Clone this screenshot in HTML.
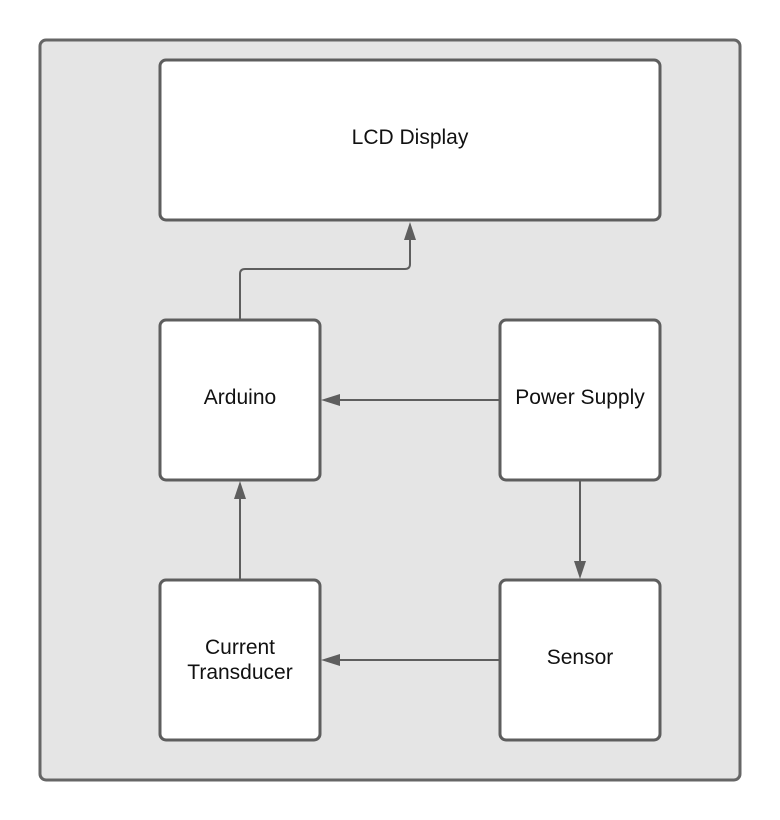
<!DOCTYPE html>
<html><head><meta charset="utf-8"><style>
html,body{margin:0;padding:0;background:#fff;}
svg{display:block;}
text{font-family:"Liberation Sans",Arial,sans-serif;font-size:21px;fill:#111;}
</style></head><body>
<svg width="780" height="820" viewBox="0 0 780 820" xmlns="http://www.w3.org/2000/svg">
<rect x="40" y="40" width="700" height="740" rx="6" fill="#e5e5e5" stroke="#666" stroke-width="3"/>
<g fill="#fff" stroke="#5e5e5e" stroke-width="3">
<rect x="160" y="60" width="500" height="160" rx="6"/>
<rect x="160" y="320" width="160" height="160" rx="6"/>
<rect x="500" y="320" width="160" height="160" rx="6"/>
<rect x="160" y="580" width="160" height="160" rx="6"/>
<rect x="500" y="580" width="160" height="160" rx="6"/>
</g>
<g fill="none" stroke="#5e5e5e" stroke-width="2">
<path d="M240 320 V274 Q240 269 245 269 H405 Q410 269 410 264 V238"/>
<path d="M500 400 H338"/>
<path d="M580 480 V562"/>
<path d="M500 660 H338"/>
<path d="M240 580 V498"/>
</g>
<g fill="#5e5e5e">
<path d="M410 222 L404 240 L416 240 Z"/>
<path d="M321 400 L340 394 L340 406 Z"/>
<path d="M580 579 L574 561 L586 561 Z"/>
<path d="M321 660 L340 654 L340 666 Z"/>
<path d="M240 481 L234 499 L246 499 Z"/>
</g>
<g text-anchor="middle">
<text x="410" y="144">LCD Display</text>
<text x="240" y="404">Arduino</text>
<text x="580" y="404">Power Supply</text>
<text x="580" y="664">Sensor</text>
<text x="240" y="654">Current</text>
<text x="240" y="679">Transducer</text>
</g>
</svg>
</body></html>
